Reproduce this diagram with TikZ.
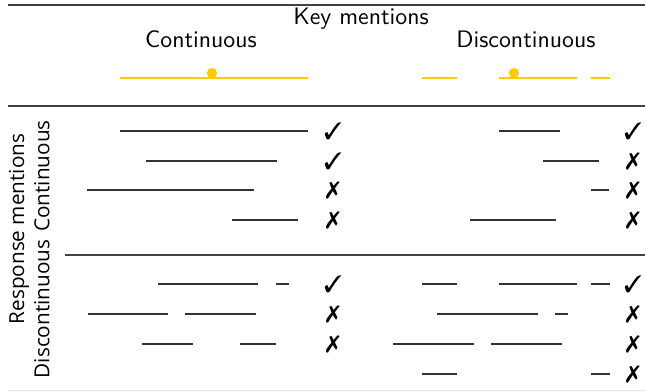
\documentclass[tikz,border=0pt]{standalone}
\usepackage{fontspec}
\usepackage{pifont}
\newfontfamily\sidefont{Open Sans}
\definecolor{keyyellow}{HTML}{FFCC00}
\definecolor{seggray}{HTML}{333333}

\begin{document}
\begin{tikzpicture}[x=0.42pt, y=-0.42pt,
		seg/.style={line width=0.95pt, draw=seggray},
		keyseg/.style={line width=0.95pt, draw=keyyellow},
		rulerow/.style={line width=0.9pt, draw=black!75},
		head/.style={font=\sffamily},
		side/.style={font=\sidefont\fontsize{8.7}{10}\selectfont, rotate=90},
		keydot/.style={circle, fill=keyyellow, inner sep=0pt, minimum size=4.3pt},
		verdict/.style={font=\normalsize, inner sep=0pt}]
		\useasboundingbox (0,0) rectangle (645,391);
		\draw[rulerow] (8,5) -- (645,5);
		\draw[rulerow] (8,106) -- (645,106);
		\draw[rulerow] (65,255) -- (645,255);
		\draw[line width=0.4pt, draw=black!10] (8,390) -- (645,390);

		\node[head] (keyhead)  at (361,19) {Key mentions};
		\node[head] (conthead) at (201,39) {Continuous};
		\node[head] (dischead) at (526,39) {Discontinuous};

		\node[side] (resp)     at (19,229) {Response mentions};
		\node[side] (respcont) at (42,176) {Continuous};
		\node[side] (respdisc) at (42,309) {Discontinuous};

		\draw[keyseg] (120,78) -- (308,78);
		\node[keydot] (contdot) at (212,73) {};
		\draw[keyseg] (422,78) -- (457,78);
		\draw[keyseg] (499,78) -- (577,78);
		\draw[keyseg] (591,78) -- (610,78);
		\node[keydot] (discdot) at (514,73) {};

		\draw[seg] (120,131) -- (308,131);
		\draw[seg] (146,161) -- (277,161);
		\draw[seg] (87,190) -- (254,190);
		\draw[seg] (232,220) -- (298,220);
		\draw[seg] (158,284) -- (258,284);
		\draw[seg] (276,284) -- (289,284);
		\draw[seg] (88,314) -- (168,314);
		\draw[seg] (185,314) -- (256,314);
		\draw[seg] (142,344) -- (193,344);
		\draw[seg] (240,344) -- (276,344);

		\draw[seg] (499,131) -- (560,131);
		\draw[seg] (543,161) -- (599,161);
		\draw[seg] (591,190) -- (609,190);
		\draw[seg] (470,220) -- (556,220);
		\draw[seg] (422,284) -- (457,284);
		\draw[seg] (499,284) -- (577,284);
		\draw[seg] (591,284) -- (610,284);
		\draw[seg] (437,314) -- (538,314);
		\draw[seg] (555,314) -- (568,314);
		\draw[seg] (393,344) -- (474,344);
		\draw[seg] (491,344) -- (562,344);
		\draw[seg] (422,374) -- (457,374);
		\draw[seg] (591,374) -- (610,374);

		\node[verdict] (cc1) at (333,131) {\ding{51}};
		\node[verdict] (cc2) at (333,161) {\ding{51}};
		\node[verdict] (cc3) at (333,190) {\ding{55}};
		\node[verdict] (cc4) at (333,220) {\ding{55}};
		\node[verdict] (cd1) at (333,284) {\ding{51}};
		\node[verdict] (cd2) at (333,314) {\ding{55}};
		\node[verdict] (cd3) at (333,344) {\ding{55}};

		\node[verdict] (dc1) at (633,131) {\ding{51}};
		\node[verdict] (dc2) at (633,161) {\ding{55}};
		\node[verdict] (dc3) at (633,190) {\ding{55}};
		\node[verdict] (dc4) at (633,220) {\ding{55}};
		\node[verdict] (dd1) at (633,284) {\ding{51}};
		\node[verdict] (dd2) at (633,314) {\ding{55}};
		\node[verdict] (dd3) at (633,344) {\ding{55}};
		\node[verdict] (dd4) at (633,374) {\ding{55}};
	\end{tikzpicture}
\end{document}
